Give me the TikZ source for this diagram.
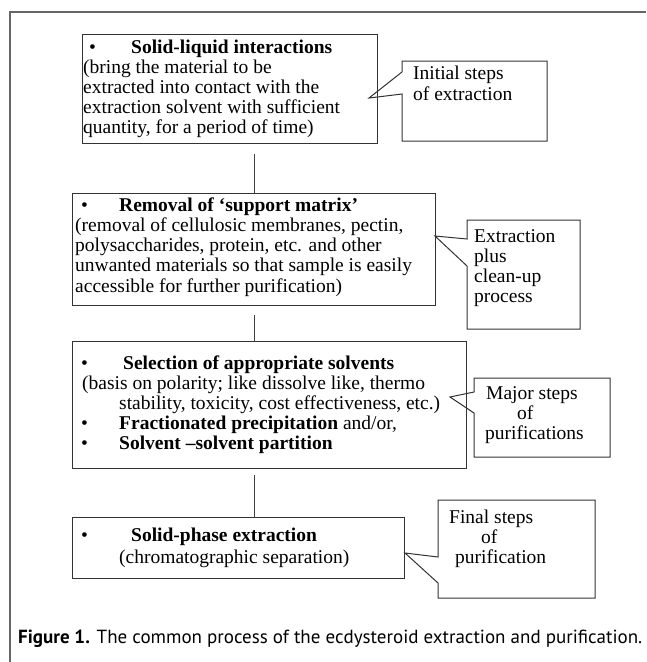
\documentclass[tikz,border=0pt]{standalone}
\usepackage{fontspec}
\newfontfamily\tnr{Liberation Serif}
\newfontfamily\capfont{PT Sans}
\begin{document}
\begin{tikzpicture}[x=1pt,y=-1pt,
  boxline/.style={draw=black!80, line width=1pt},
  frm/.style={rectangle, draw=none, anchor=north west, inner sep=0pt, outer sep=0pt},
  txt/.style={anchor=base west, inner sep=0pt, font=\tnr\fontsize{19.5}{20}\selectfont},
  btxt/.style={txt, font=\tnr\bfseries\fontsize{19.5}{20}\selectfont},
  conn/.style={draw=black!75, line width=0.8pt},
  outer/.style={draw=black!60, line width=1.5pt}]
\useasboundingbox (0,0) rectangle (646,662);
% outer frame (left and top only)
\coordinate (fa) at (10,662);
\coordinate (fb) at (10,12);
\coordinate (fc) at (646,12);
\draw[outer] (fa) -- (fb) -- (fc);

% main boxes
\node[frm, boxline, minimum width=295pt, minimum height=109pt] (b1) at (82,34) {};
\node[frm, boxline, minimum width=363pt, minimum height=112pt] (b2) at (72,193) {};
\node[frm, boxline, minimum width=394pt, minimum height=127pt] (b3) at (72,341) {};
\node[frm, boxline, minimum width=332pt, minimum height=61pt] (b4) at (72,517) {};

% box 1 text
\node[txt] (b1bul) at (89,53) {\textbullet};
\node[btxt] (b1h) at (131,53) {Solid-liquid interactions};
\node[txt] (b1l1) at (83,73) {(bring the material to be};
\node[txt] (b1l2) at (83,93) {extracted into contact with the};
\node[txt] (b1l3) at (83,113) {extraction solvent with sufficient};
\node[txt] (b1l4) at (83,133) {quantity, for a period of time)};

% box 2 text
\node[txt] (b2bul) at (81,211) {\textbullet};
\node[btxt] (b2h) at (119,211) {Removal of ‘support matrix’};
\node[txt] (b2l1) at (75,231) {(removal of cellulosic membranes, pectin,};
\node[txt] (b2l2) at (75,251) {polysaccharides, protein, etc. and other};
\node[txt] (b2l3) at (75,271) {unwanted materials so that sample is easily};
\node[txt] (b2l4) at (75,292) {accessible for further purification)};

% box 3 text
\node[txt] (b3bul) at (81,369) {\textbullet};
\node[btxt] (b3h) at (123,369) {Selection of appropriate solvents};
\node[txt] (b3l1) at (82,389) {(basis on polarity; like dissolve like, thermo};
\node[txt] (b3l2) at (119,409) {stability, toxicity, cost effectiveness, etc.)};
\node[txt] (b3bul2) at (81,429) {\textbullet};
\node[txt] (b3l3) at (119,429) {\bfseries Fractionated precipitation \mdseries and/or,};
\node[txt] (b3bul3) at (81,449) {\textbullet};
\node[btxt] (b3l4) at (119,449) {Solvent –solvent partition};

% box 4 text
\node[txt] (b4bul) at (81,541) {\textbullet};
\node[btxt] (b4h) at (131,541) {Solid-phase extraction};
\node[txt] (b4l1) at (119,563) {(chromatographic separation)};

% connectors
\coordinate (c1) at (254,154);
\coordinate (c2) at (254,315);
\coordinate (c3) at (254,475);
\draw[conn] (c1) -- (c1 |- b2.north);
\draw[conn] (c2) -- (c2 |- b3.north);
\draw[conn] (c3) -- (c3 |- b4.north);

% callout 1
\node[frm, minimum width=145pt, minimum height=80pt] (k1) at (402,61) {};
\coordinate (k1a) at (402,72);
\coordinate (k1b) at (402,94);
\coordinate (k1t) at (369,98);
\draw[boxline] (k1a) -- (k1.north west) -- (k1.north east) -- (k1.south east) -- (k1.south west) -- (k1b) -- (k1t) -- cycle;
\node[txt] (k1l1) at (413,79) {Initial steps};
\node[txt] (k1l2) at (413,100) {of extraction};

% callout 2
\node[frm, minimum width=113pt, minimum height=109pt] (k2) at (467,220) {};
\coordinate (k2a) at (467,239);
\coordinate (k2b) at (467,266);
\coordinate (k2t) at (435,236);
\draw[boxline] (k2a) -- (k2.north west) -- (k2.north east) -- (k2.south east) -- (k2.south west) -- (k2b) -- (k2t) -- cycle;
\node[txt] (k2l1) at (474,242) {Extraction};
\node[txt] (k2l2) at (474,262) {plus};
\node[txt] (k2l3) at (474,282) {clean-up};
\node[txt] (k2l4) at (474,302) {process};

% callout 3
\node[frm, minimum width=136pt, minimum height=79pt] (k3) at (474,378) {};
\coordinate (k3a) at (474,392);
\coordinate (k3b) at (474,413);
\coordinate (k3t) at (450,397);
\draw[boxline] (k3a) -- (k3.north west) -- (k3.north east) -- (k3.south east) -- (k3.south west) -- (k3b) -- (k3t) -- cycle;
\node[txt] (k3l1) at (486,399) {Major steps};
\node[txt] (k3l2) at (517,419) {of};
\node[txt] (k3l3) at (485,439) {purifications};

% callout 4
\node[frm, minimum width=157pt, minimum height=98pt] (k4) at (438,500) {};
\coordinate (k4a) at (438,557);
\coordinate (k4b) at (438,583);
\coordinate (k4t) at (405,553);
\draw[boxline] (k4a) -- (k4.north west) -- (k4.north east) -- (k4.south east) -- (k4.south west) -- (k4b) -- (k4t) -- cycle;
\node[txt] (k4l1) at (449,523) {Final steps};
\node[txt] (k4l2) at (481,543) {of};
\node[txt] (k4l3) at (455,563) {purification};

% caption
\node[anchor=base west, inner sep=0pt, font=\capfont\fontsize{19}{22}\selectfont] (cap) at (18,643)
  {\textbf{Figure 1.} The common process of the ecdysteroid extraction and purification.};
\end{tikzpicture}
\end{document}
